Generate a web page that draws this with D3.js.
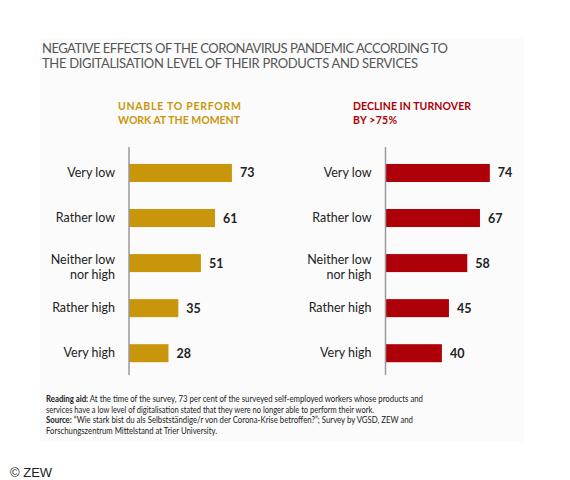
<!DOCTYPE html>
<html>
<head>
<meta charset="utf-8">
<script src="https://cdn.jsdelivr.net/npm/d3@7"></script>
<style>
  body { margin: 0; background: #fff; }
  text { font-family: Lato, "Noto Sans", sans-serif; }
</style>
</head>
<body>
<div id="graph"></div>
<script>
// digitalisation levels (top to bottom)
var categories = ["Very low", "Rather low", "Neither low nor high", "Rather high", "Very high"];
var unableToWork = [73, 61, 51, 35, 28];
var turnoverDecline = [74, 67, 58, 45, 40];

var titleLines = [
    "NEGATIVE EFFECTS OF THE CORONAVIRUS PANDEMIC ACCORDING TO",
    "THE DIGITALISATION LEVEL OF THEIR PRODUCTS AND SERVICES"
];
var leftHeader = ["UNABLE TO PERFORM", "WORK AT THE MOMENT"];
var rightHeader = ["DECLINE IN TURNOVER", "BY >75%"];

var width = 570, height = 480;

var svg = d3.select("#graph").append("svg")
    .attr("width", width)
    .attr("height", height);

// faint panel behind the chart
svg.append("rect")
    .attr("x", 40).attr("y", 38)
    .attr("width", 484).attr("height", 404)
    .attr("fill", "#fbfbfb");

// title
svg.append("g").selectAll("text")
    .data(titleLines)
    .join("text")
    .attr("x", 42)
    .attr("y", function(d, i) { return 53 + i * 14.5; })
    .attr("font-size", 13)
    .attr("fill", "#555")
    .attr("textLength", function(d, i) { return i == 0 ? 406 : 376; })
    .attr("lengthAdjust", "spacing")
    .text(function(d) { return d; });

var x = d3.scaleLinear().domain([0, 100]).range([0, 141]);

var y = d3.scaleBand()
    .domain(categories)
    .range([147, 375])
    .paddingInner(0.6)
    .paddingOuter(0.33)
    .align(0.57);

function panel(axisX, values, header, headerX, headerWidths, color) {
    var g = svg.append("g").attr("transform", "translate(" + axisX + ",0)");

    // header in two lines
    g.selectAll("text.header")
        .data(header)
        .join("text")
        .attr("class", "header")
        .attr("x", headerX)
        .attr("y", function(d, i) { return 110 + i * 14; })
        .attr("font-size", 10.5)
        .attr("font-weight", "bold")
        .attr("fill", color)
        .attr("textLength", function(d, i) { return headerWidths[i]; })
        .attr("lengthAdjust", "spacing")
        .text(function(d) { return d; });

    g.selectAll("rect.bar")
        .data(values)
        .join("rect")
        .attr("class", "bar")
        .attr("x", 0)
        .attr("y", function(d, i) { return y(categories[i]); })
        .attr("width", function(d) { return x(d); })
        .attr("height", y.bandwidth())
        .attr("fill", color);

    // vertical axis line
    g.append("line")
        .attr("x1", 0).attr("x2", 0)
        .attr("y1", y.range()[0]).attr("y2", y.range()[1])
        .attr("stroke", "#999")
        .attr("stroke-width", 1.5);

    // value labels
    g.selectAll("text.value")
        .data(values)
        .join("text")
        .attr("class", "value")
        .attr("x", function(d) { return x(d) + 8; })
        .attr("y", function(d, i) { return y(categories[i]) + y.bandwidth() / 2 + 4.5; })
        .attr("font-size", 12.5)
        .attr("font-weight", "bold")
        .attr("fill", "#222")
        .text(function(d) { return d; });

    // category labels, wrapped where long
    var lab = g.selectAll("text.cat")
        .data(categories)
        .join("text")
        .attr("class", "cat")
        .attr("text-anchor", "end")
        .attr("font-size", 12.5)
        .attr("fill", "#222")
        .attr("y", function(d) { return y(d) + y.bandwidth() / 2; });

    lab.each(function(d) {
        var t = d3.select(this);
        var lines = d == "Neither low nor high" ? ["Neither low", "nor high"] : [d];
        lines.forEach(function(s, i) {
            t.append("tspan")
                .attr("x", -14)
                .attr("dy", lines.length == 1 ? 4 : (i == 0 ? 1 : 14.5))
                .text(s);
        });
    });
}

panel(129, unableToWork, leftHeader, -11, [123, 122], "#c9960b");
panel(385.5, turnoverDecline, rightHeader, -32.5, [118, 44], "#ad0008");

// footnote
var notes = [
    [["Reading aid:", true], [" At the time of the survey, 73 per cent of the surveyed self-employed workers whose products and", false]],
    [["services have a low level of digitalisation stated that they were no longer able to perform their work.", false]],
    [["Source:", true], [" \u201cWie stark bist du als Selbstst\u00e4ndige/r von der Corona-Krise betroffen?\u201d; Survey by VGSD, ZEW and", false]],
    [["Forschungszentrum Mittelstand at Trier University.", false]]
];
var noteWidths = [377, 328, 367, 171];

svg.append("g").selectAll("text")
    .data(notes)
    .join("text")
    .attr("x", 46)
    .attr("y", function(d, i) { return 402 + i * 10.7; })
    .attr("font-size", 8.5)
    .attr("fill", "#222")
    .attr("textLength", function(d, i) { return noteWidths[i]; })
    .attr("lengthAdjust", "spacingAndGlyphs")
    .each(function(d) {
        var t = d3.select(this);
        d.forEach(function(p) {
            t.append("tspan")
                .attr("font-weight", p[1] ? "bold" : "normal")
                .text(p[0]);
        });
    });

svg.append("text")
    .attr("x", 10)
    .attr("y", 477)
    .attr("font-size", 13)
    .attr("fill", "#222")
    .style("font-family", "'Liberation Sans', Arial, sans-serif")
    .text("\u00a9 ZEW");
</script>
</body>
</html>
